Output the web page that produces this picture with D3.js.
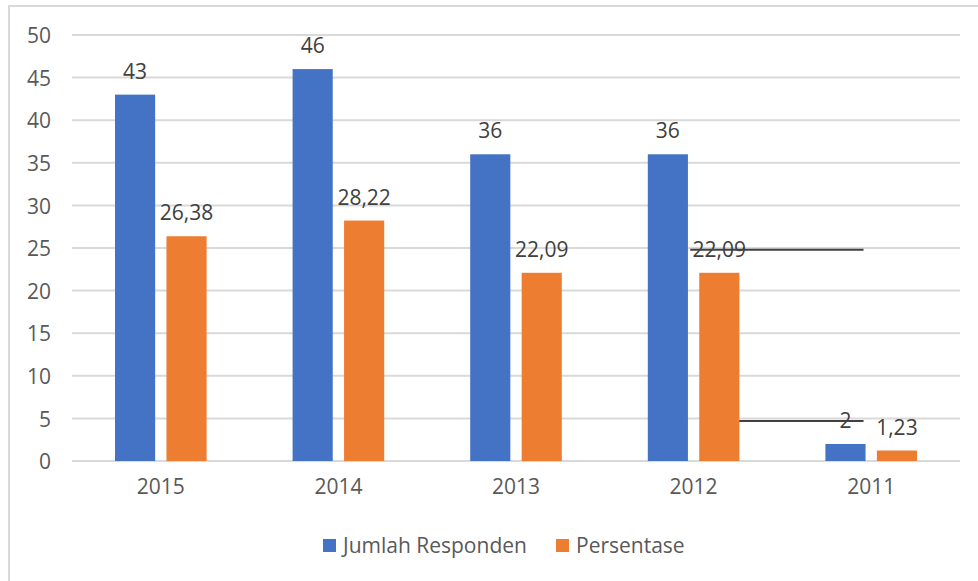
<!DOCTYPE html>
<html>
<head>
<meta charset="utf-8">
<script src="https://cdn.jsdelivr.net/npm/d3@7"></script>
<style>
  body { margin: 0; background: #fff; }
  text { font-family: "Open Sans", sans-serif; }
</style>
</head>
<body>
<script>
'use strict';

// chart data
const years = ["2015", "2014", "2013", "2012", "2011"];
const seriesNames = ["Jumlah Responden", "Persentase"];
const jumlahResponden = [43, 46, 36, 36, 2];
const persentase = [26.38, 28.22, 22.09, 22.09, 1.23];
const yTicks = [0, 5, 10, 15, 20, 25, 30, 35, 40, 45, 50];
const colors = ["#4472C4", "#ED7D31"];

// stray strike lines visible in the source picture (value level, from year, to year)
const strayLines = [
  { value: 24.8, fromYear: "2012", fromSeries: 1, toYear: "2011", start: -9 },
  { value: 4.7, fromYear: "2012", fromSeries: 1, toYear: "2011", start: 40 }
];

const rows = years.map((y, i) => ({ year: y, values: [jumlahResponden[i], persentase[i]] }));

const svg = d3.select("body").append("svg")
  .attr("width", 978)
  .attr("height", 581);

// outer chart border
svg.append("rect")
  .attr("x", 9).attr("y", 6)
  .attr("width", 990).attr("height", 600)
  .attr("fill", "none")
  .attr("stroke", "#d9d9d9")
  .attr("stroke-width", 2);

const x0 = d3.scaleBand().domain(years).range([72, 960]);
const x1 = d3.scaleBand().domain([0, 1])
  .range([43, x0.bandwidth() - 43])
  .paddingInner(0.22);
const y = d3.scaleLinear().domain([0, 50]).range([461, 35]);

// gridlines
svg.append("g")
  .selectAll("line")
  .data(yTicks)
  .enter()
  .append("line")
  .attr("x1", 72).attr("x2", 960)
  .attr("y1", d => y(d)).attr("y2", d => y(d))
  .attr("stroke", "#d9d9d9")
  .attr("stroke-width", 2);

// y axis labels
const yAxis = d3.axisLeft(y).tickValues(yTicks).tickSize(0).tickPadding(0);
const yg = svg.append("g")
  .attr("transform", "translate(51,1)")
  .call(yAxis);
yg.select(".domain").remove();
yg.selectAll("text")
  .attr("fill", "#595959")
  .style("font-size", "21px")
  .style("font-family", "'Open Sans', sans-serif");

// x axis labels
const xAxis = d3.axisBottom(x0).tickSize(0).tickPadding(0);
const xg = svg.append("g")
  .attr("transform", "translate(0,479)")
  .call(xAxis);
xg.select(".domain").remove();
xg.selectAll("text")
  .attr("fill", "#595959")
  .style("font-size", "21px")
  .style("font-family", "'Open Sans', sans-serif");

// bars
const groups = svg.append("g")
  .selectAll("g")
  .data(rows)
  .enter()
  .append("g")
  .attr("transform", d => "translate(" + x0(d.year) + ",0)");

groups.selectAll("rect")
  .data(d => d.values.map((v, i) => ({ v: v, i: i })))
  .enter()
  .append("rect")
  .attr("x", d => x1(d.i))
  .attr("width", x1.bandwidth())
  .attr("y", d => y(d.v))
  .attr("height", d => y(0) - y(d.v))
  .attr("fill", d => colors[d.i]);

// value labels
groups.selectAll("text.val")
  .data(d => d.values.map((v, i) => ({ v: v, i: i })))
  .enter()
  .append("text")
  .attr("class", "val")
  .attr("x", d => x1(d.i) + x1.bandwidth() / 2)
  .attr("y", d => y(d.v) - 16)
  .attr("text-anchor", "middle")
  .attr("fill", "#404040")
  .style("font-size", "21px")
  .text(d => String(d.v).replace(".", ","));

// stray lines
svg.append("g")
  .selectAll("line")
  .data(strayLines)
  .enter()
  .append("line")
  .attr("x1", d => x0(d.fromYear) + x1(d.fromSeries) + d.start)
  .attr("x2", d => x0(d.toYear) + x1(0) + x1.bandwidth() - 2)
  .attr("y1", d => y(d.value)).attr("y2", d => y(d.value))
  .attr("stroke", "#404040")
  .attr("stroke-width", 2);

// legend
const legendX = [323, 556];
const legend = svg.append("g")
  .selectAll("g")
  .data(seriesNames)
  .enter()
  .append("g")
  .attr("transform", (d, i) => "translate(" + legendX[i] + ",539)");

legend.append("rect")
  .attr("width", 13).attr("height", 13)
  .attr("fill", (d, i) => colors[i]);

legend.append("text")
  .attr("x", 20)
  .attr("y", 7)
  .attr("dy", "0.35em")
  .attr("fill", "#595959")
  .style("font-size", "21px")
  .text(d => d);
</script>
</body>
</html>
